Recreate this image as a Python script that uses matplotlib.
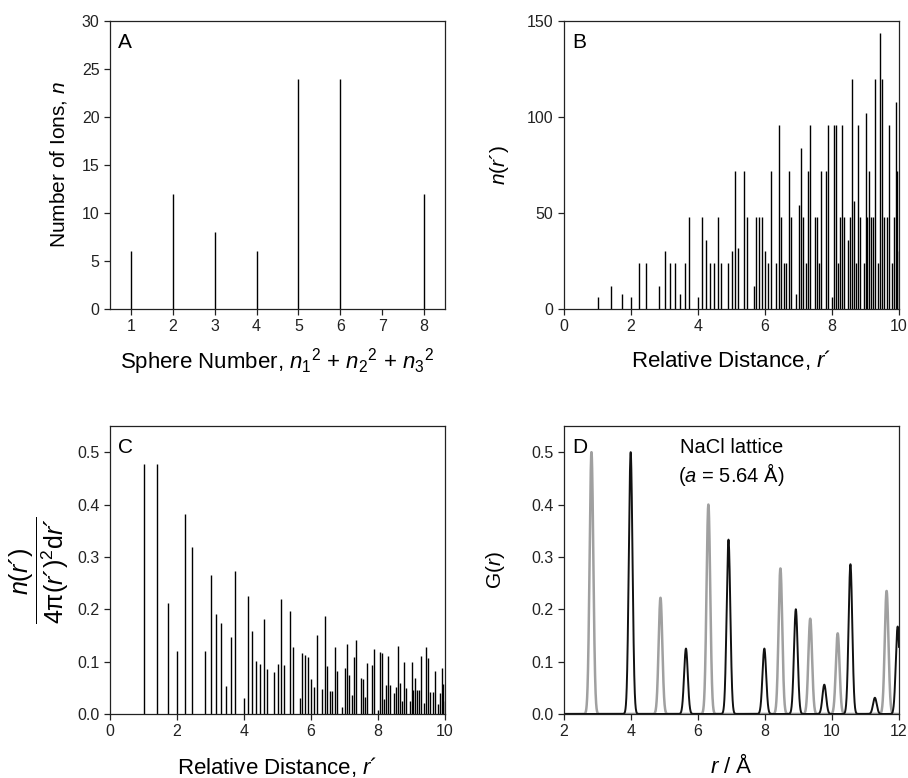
import numpy as np
import matplotlib
matplotlib.use("Agg")
import matplotlib.pyplot as plt

plt.rcParams['font.family'] = ['Liberation Sans', 'DejaVu Sans']
plt.rcParams['mathtext.fontset'] = 'custom'
plt.rcParams['mathtext.rm'] = 'Liberation Sans'
plt.rcParams['mathtext.it'] = 'Liberation Sans:italic'
plt.rcParams['mathtext.bf'] = 'Liberation Sans:bold'

# ---- Panel A data ----
sphere_a = [1, 2, 3, 4, 5, 6, 7, 8]
ions_a = [6, 12, 8, 6, 24, 24, 0, 12]

# ---- Panel B / C data: sphere number N = n1^2+n2^2+n3^2 and number of ions ----
sphere_n = list(range(1, 101))
ions_n = [6, 12, 8, 6, 24, 24, 0, 12, 30, 24,
          24, 8, 24, 48, 0, 6, 48, 36, 24, 24,
          48, 24, 0, 24, 30, 72, 32, 0, 72, 48,
          0, 12, 48, 48, 48, 30, 24, 72, 0, 24,
          96, 48, 24, 24, 72, 48, 0, 8, 54, 84,
          48, 24, 72, 96, 0, 48, 48, 24, 72, 0,
          72, 96, 0, 6, 96, 96, 24, 48, 96, 48,
          0, 36, 48, 120, 56, 24, 96, 48, 0, 24,
          102, 48, 72, 48, 48, 120, 0, 24, 144, 120,
          48, 0, 48, 96, 0, 24, 48, 108, 72, 30]
dr = 1.0

# ---- Panel D data: NaCl peaks ----
peak_r_unlike = [2.82, 4.88, 6.31, 8.46, 9.35, 10.17, 11.63]
peak_h_unlike = [0.500, 0.222, 0.400, 0.278, 0.182, 0.154, 0.235]
peak_r_like = [3.99, 5.64, 6.91, 7.98, 8.92, 9.77, 10.55, 11.28, 11.96]
peak_h_like = [0.500, 0.125, 0.333, 0.125, 0.200, 0.056, 0.286, 0.031, 0.167]
peak_sigma = 0.055

fig = plt.figure(figsize=(9.08, 7.78), dpi=100)
W, H = 908, 778

def make_ax(l, t, w, h):
    return fig.add_axes([l / W, (H - t - h) / H, w / W, h / H])

axA = make_ax(110, 21, 335, 288)
axB = make_ax(564, 21, 335, 288)
axC = make_ax(110, 426, 335, 288)
axD = make_ax(564, 426, 335, 288)

TICK_FS = 11.5
LAB_FS = 16
LET_FS = 15
for ax in (axA, axB, axC, axD):
    for s in ax.spines.values():
        s.set_linewidth(0.9)
        s.set_color('#222222')
    ax.tick_params(direction='out', length=4.5, width=0.9, labelsize=TICK_FS,
                   pad=3, colors='#222222', top=False, right=False)

ACU = '\u00b4'
lw_bar = 1.0
# Panel A
axA.vlines(sphere_a, 0, ions_a, color='black', lw=lw_bar)
axA.set_xlim(0.5, 8.5)
axA.set_ylim(0, 30)
axA.set_xticks(sphere_a)
axA.set_yticks([0, 5, 10, 15, 20, 25, 30])
axA.set_xlabel(r'Sphere Number, $n_1{}^2$ + $n_2{}^2$ + $n_3{}^2$', fontsize=LAB_FS)
axA.set_ylabel(r'Number of Ions, $n$', fontsize=15)
axA.text(0.024, 0.927, 'A', transform=axA.transAxes, fontsize=LET_FS, va='center', ha='left')

# Panel B
r_rel = np.sqrt(np.array(sphere_n, dtype=float))
axB.vlines(r_rel, 0, ions_n, color='black', lw=lw_bar)
axB.set_xlim(0, 10)
axB.set_ylim(0, 150)
axB.set_xticks([0, 2, 4, 6, 8, 10])
axB.set_yticks([0, 50, 100, 150])
axB.set_xlabel('Relative Distance, $r$' + ACU, fontsize=LAB_FS)
axB.set_ylabel('$n$($r$' + ACU + ')', fontsize=15)
axB.text(0.024, 0.927, 'B', transform=axB.transAxes, fontsize=LET_FS, va='center', ha='left')

# Panel C
density = np.array(ions_n, dtype=float) / (4 * np.pi * r_rel ** 2 * dr)
axC.vlines(r_rel, 0, density, color='black', lw=lw_bar)
axC.set_xlim(0, 10)
axC.set_ylim(0, 0.55)
axC.set_xticks([0, 2, 4, 6, 8, 10])
axC.set_yticks([0.0, 0.1, 0.2, 0.3, 0.4, 0.5])
axC.set_yticklabels(['0.0', '0.1', '0.2', '0.3', '0.4', '0.5'])
axC.set_xlabel('Relative Distance, $r$' + ACU, fontsize=LAB_FS)
axC.set_ylabel('$\\dfrac{n(r' + ACU + ')}{4\\mathrm{\\pi}(r' + ACU + ')^2\\mathrm{d}r' + ACU + '}$',
               fontsize=18)
axC.text(0.024, 0.927, 'C', transform=axC.transAxes, fontsize=LET_FS, va='center', ha='left')

# Panel D
x = np.linspace(2, 12, 8001)
g_unlike = np.zeros_like(x)
for r0, h0 in zip(peak_r_unlike, peak_h_unlike):
    g_unlike += h0 * np.exp(-0.5 * ((x - r0) / peak_sigma) ** 2)
g_like = np.zeros_like(x)
for r0, h0 in zip(peak_r_like, peak_h_like):
    g_like += h0 * np.exp(-0.5 * ((x - r0) / peak_sigma) ** 2)
axD.plot(x, g_unlike, color='#a0a0a0', lw=1.8)
axD.plot(x, g_like, color='#111111', lw=1.4)
axD.set_xlim(2, 12)
axD.set_ylim(0, 0.55)
axD.set_xticks([2, 4, 6, 8, 10, 12])
axD.set_yticks([0.0, 0.1, 0.2, 0.3, 0.4, 0.5])
axD.set_yticklabels(['0.0', '0.1', '0.2', '0.3', '0.4', '0.5'])
axD.set_xlabel('$r$ / \u00c5', fontsize=LAB_FS)
axD.set_ylabel('G($r$)', fontsize=15)
axD.text(0.024, 0.927, 'D', transform=axD.transAxes, fontsize=LET_FS, va='center', ha='left')
axD.text(0.5, 0.924, 'NaCl lattice', transform=axD.transAxes, fontsize=14.5, ha='center', va='center')
axD.text(0.5, 0.833, '($a$ = 5.64 \u00c5)', transform=axD.transAxes, fontsize=14.5, ha='center', va='center')

# label positions
for ax, xl, yl in ((axA, -0.184, -0.155), (axB, -0.177, -0.194),
                   (axC, -0.184, -0.21), (axD, -0.18, -0.203)):
    ax.xaxis.set_label_coords(0.5, xl)
    ax.xaxis.label.set_va('center')
    ax.yaxis.set_label_coords(yl, 0.5)
    ax.yaxis.label.set_va('center')

fig.savefig('out.png', dpi=100)
